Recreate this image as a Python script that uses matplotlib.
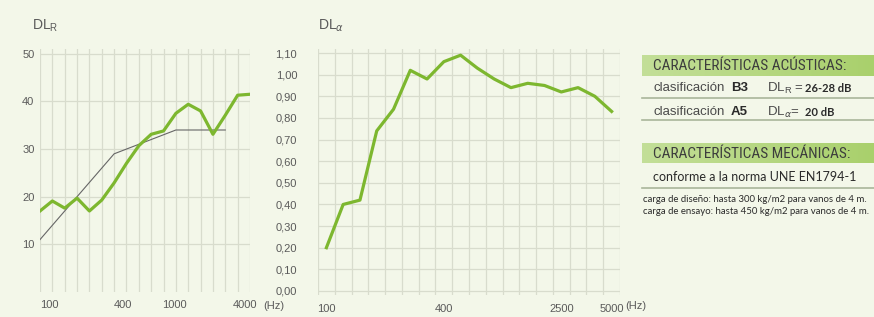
import numpy as np
import matplotlib
matplotlib.use("Agg")
import matplotlib.pyplot as plt
from matplotlib.lines import Line2D
from matplotlib.colors import LinearSegmentedColormap
from matplotlib import font_manager

# --- data ---
bands = ["100", "125", "160", "200", "250", "315", "400", "500", "630", "800",
         "1000", "1250", "1600", "2000", "2500", "3150", "4000", "5000"]
dl_r = [17.0, 19.1, 17.6, 19.7, 17.0, 19.3, 22.9, 27.0, 30.7, 33.1,
        33.8, 37.5, 39.4, 38.0, 33.1, 37.1, 41.3, 41.5]
ref_curve = [11, 14, 17, 20, 23, 26, 29, 30, 31, 32, 33, 34, 34, 34, 34, 34]
dl_a = [0.20, 0.40, 0.42, 0.74, 0.84, 1.02, 0.98, 1.06, 1.09, 1.03,
        0.98, 0.94, 0.96, 0.95, 0.92, 0.94, 0.90, 0.83]

left_xlabels = ["100", "400", "1000", "4000"]
left_xlabel_pos = [0.75, 6.75, 10.9, 16.6]
right_xlabels = ["100", "400", "2500", "5000"]
right_xlabel_pos = [0, 7, 14, 17]

W, H = 874, 317
BG = "#f3f7e9"
GREEN = "#7db72f"
GRID = "#d8dccd"
TXT = "#5a5a5a"

plt.rcParams["font.family"] = ["Liberation Sans", "DejaVu Sans"]
plt.rcParams["mathtext.fontset"] = "custom"
plt.rcParams["mathtext.rm"] = "Liberation Sans"

# look for a condensed face for the headers (falls back to plain sans)
narrow_file = None
for f in font_manager.fontManager.ttflist:
    if ("condensed" in str(f.stretch) or "Narrow" in f.name or "Condensed" in f.name) \
            and f.style == "normal" and f.weight in (400, "normal", "regular"):
        narrow_file = f.fname
        if "Liberation" in f.name or "Roboto" in f.name:
            break
if narrow_file:
    hdr_font = dict(fontproperties=font_manager.FontProperties(fname=narrow_file, size=11))
else:
    hdr_font = dict(family="Liberation Sans", fontsize=9.3)

fig = plt.figure(figsize=(W / 100, H / 100), dpi=100, facecolor=BG)


def ax_rect(x0, x1, ytop, ybot):
    return [x0 / W, 1 - ybot / H, (x1 - x0) / W, (ybot - ytop) / H]


def fx(px):
    return px / W


def fy(py):
    return 1 - py / H


# --- left chart: DL_R ---
ax1 = fig.add_axes(ax_rect(40, 250, 49, 292))
ax1.set_facecolor(BG)
idx = np.arange(len(bands))
ax1.set_xlim(0, len(bands) - 1)
ax1.set_ylim(0, 51)
for i in idx:
    ax1.axvline(i, color=GRID, lw=0.9, zorder=0)
for v in [10, 20, 30, 40, 50]:
    ax1.axhline(v, color=GRID, lw=0.9, zorder=0)
ax1.plot(idx[:len(ref_curve)], ref_curve, color="#666666", lw=0.8, zorder=2)
ax1.plot(idx, dl_r, color=GREEN, lw=2.3, zorder=3)
ax1.set_yticks([10, 20, 30, 40, 50])
ax1.set_xticks(left_xlabel_pos)
ax1.set_xticklabels(left_xlabels)
ax1.tick_params(length=0, labelsize=8, labelcolor=TXT)
ax1.tick_params(axis="y", pad=4)
ax1.tick_params(axis="x", pad=6)
for s in ax1.spines.values():
    s.set_visible(False)
fig.text(fx(263), fy(306), "(Hz)", fontsize=8, color=TXT, va="center")
fig.text(fx(32), fy(26), r"DL$_\mathregular{R}$", fontsize=10, color=TXT, va="center")

# --- right chart: DL_alpha ---
ax2 = fig.add_axes(ax_rect(318, 620, 48.7, 295.3))
ax2.set_facecolor(BG)
ax2.set_xlim(-0.5, len(bands) - 0.5)
ax2.set_ylim(-0.02, 1.12)
for i in range(len(bands) + 1):
    ax2.axvline(i - 0.5, color=GRID, lw=0.9, zorder=0)
yt = np.round(np.arange(0, 1.11, 0.1), 2)
for v in yt:
    ax2.axhline(v, color=GRID, lw=0.9, zorder=0)
ax2.plot(idx, dl_a, color=GREEN, lw=2.3, zorder=3)
ax2.set_yticks(yt)
ax2.set_yticklabels([f"{v:.2f}".replace(".", ",") for v in yt])
ax2.set_xticks(right_xlabel_pos)
ax2.set_xticklabels(right_xlabels)
ax2.tick_params(length=0, labelsize=8, labelcolor=TXT)
ax2.tick_params(axis="y", pad=15)
ax2.tick_params(axis="x", pad=6)
for s in ax2.spines.values():
    s.set_visible(False)
fig.text(fx(625), fy(306), "(Hz)", fontsize=8, color=TXT, va="center")
fig.text(fx(318), fy(26), r"DL$_\alpha$", fontsize=10, color=TXT, va="center")

# --- right side info panel ---
grad = np.linspace(0, 1, 256).reshape(1, -1)
hdr_cmap = LinearSegmentedColormap.from_list("hdr", ["#c3df98", "#a9d06c"])
for top, bot in [(55, 76), (143, 163)]:
    hax = fig.add_axes(ax_rect(642, 874, top, bot))
    hax.imshow(grad, aspect="auto", cmap=hdr_cmap, extent=[0, 1, 0, 1])
    hax.axis("off")

fig.text(fx(653), fy(66), "CARACTERÍSTICAS ACÚSTICAS:", color="#3d3d3d", va="center", **hdr_font)
fig.text(fx(653), fy(154), "CARACTERÍSTICAS MECÁNICAS:", color="#3d3d3d", va="center", **hdr_font)

calibri = ["Lato", "DejaVu Sans"]
rows = [(88, "B3", r"DL$_\mathregular{R}$ =", "26-28 dB"),
        (112, "A5", r"DL$_\alpha$=", "20 dB")]
for y, cls, lab, val in rows:
    fig.text(fx(653), fy(y), "clasificación", fontsize=9.5, color="#4a4a4a", va="center")
    fig.text(fx(731), fy(y), cls, fontsize=9.5, color="#2a2a2a", weight="bold", va="center")
    fig.text(fx(767), fy(y), lab, fontsize=9.5, color="#4a4a4a", va="center")
    fig.text(fx(805), fy(y), val, fontsize=8, family=calibri,
             color="#2a2a2a", weight="bold", va="center")

for y in [98, 120, 188]:
    fig.add_artist(Line2D([fx(642), fx(874)], [fy(y), fy(y)], color="#a9b59a", lw=1.2))

fig.text(fx(653), fy(177), "conforme a la norma UNE EN1794-1", fontsize=9,
         family=calibri, color="#2a2a2a", va="center")
fig.text(fx(643), fy(200), "carga de diseño: hasta 300 kg/m2 para vanos de 4 m.", fontsize=6.9,
         family=calibri, color="#2a2a2a", va="center")
fig.text(fx(643), fy(211), "carga de ensayo: hasta 450 kg/m2 para vanos de 4 m.", fontsize=6.9,
         family=calibri, color="#2a2a2a", va="center")

fig.savefig("out.png", dpi=100, facecolor=BG)
